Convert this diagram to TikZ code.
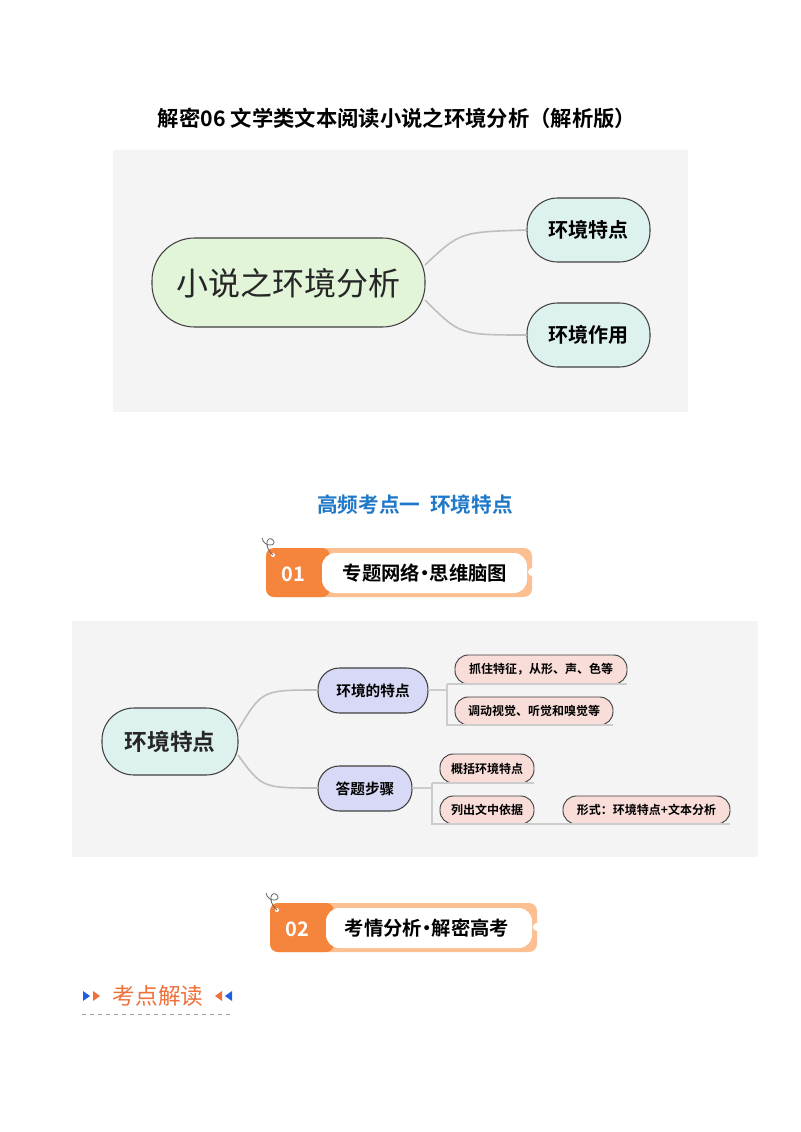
\documentclass[tikz,border=0pt]{standalone}
\usepackage{fontspec}
\newfontfamily\cjk{Noto Sans CJK SC}
\newfontfamily\cjkb{Noto Sans CJK SC Bold}
\definecolor{panel}{HTML}{F4F4F4}
\definecolor{lgreen}{HTML}{E2F5D9}
\definecolor{lcyan}{HTML}{DDF1EE}
\definecolor{lav}{HTML}{D7D9F6}
\definecolor{pinkf}{HTML}{F8DDD8}
\definecolor{orng}{HTML}{F5843C}
\definecolor{lorng}{HTML}{FBBF92}
\definecolor{ttlblue}{HTML}{1F78C8}
\definecolor{txtorng}{HTML}{F0703A}
\definecolor{arrblue}{HTML}{1F5FE0}
\tikzset{
 bub/.style={draw=black!75,line width=0.8pt,rounded corners=#1},
 conn/.style={draw=black!25,line width=1.2pt},
 leafl/.style={draw=black!20,line width=0.8pt},
 t/.style={font=\cjkb\color{black!80}},
}
\begin{document}
\begin{tikzpicture}[x=0.75pt,y=-0.75pt]
\useasboundingbox (0,0) rectangle (800,1132);
\fill[white] (0,0) rectangle (800,1132);
\node[font=\cjkb\fontsize{16}{18}\selectfont] (title) at (397,118) {解密06\ 文学类文本阅读小说之环境分析（解析版）};
% top panel
\fill[panel] (113,150) rectangle (688,412);
\filldraw[bub=32,fill=lgreen] (152,238) rectangle (425,327);
\node[font=\cjk\fontsize{24}{26}\selectfont,text=black!85] (c) at (288.5,283) {小说之环境分析};
\filldraw[bub=23,fill=lcyan] (527,198) rectangle (650,262);
\node[t,font=\cjkb\fontsize{15}{17}\selectfont] (a1) at (588.5,230) {环境特点};
\filldraw[bub=23,fill=lcyan] (527,303) rectangle (650,367);
\node[t,font=\cjkb\fontsize{15}{17}\selectfont] (a2) at (588.5,335) {环境作用};
\coordinate (cr) at (425,265); \coordinate (cr2) at (425,300);
\coordinate (a1l) at (527,230); \coordinate (a2l) at (527,335);
\draw[conn] (cr) .. controls (460,232) .. (a1l);
\draw[conn] (cr2) .. controls (460,335) .. (a2l);
% section title
\node[font=\cjkb\fontsize{15.5}{17}\selectfont,text=ttlblue] (sec) at (415,505) {高频考点一\ \ 环境特点};
% banner 01
\begin{scope}
\fill[lorng,rounded corners=6] (266,548) rectangle (532,597);
\fill[orng,rounded corners=6] (266,548) rectangle (330,597);
\fill[white,rounded corners=10] (322,553) rectangle (527,593);
\fill[white] (532,572) circle (4);
\fill[white] (273,555) circle (2);
\node[font=\cjkb\fontsize{15}{17}\selectfont,text=white] (n01) at (293,574) {01};
\node[font=\cjkb\fontsize{14.5}{16}\selectfont] (b01) at (425,573) {专题网络\kern-0.25em·\kern-0.25em思维脑图};
\draw[black!60,line width=0.6pt] (273,555) .. controls (262,545) and (268,535) .. (273,540) .. controls (278,546) and (264,548) .. (262,538);
\end{scope}
% second panel
\fill[panel] (72,621) rectangle (758,857);
\filldraw[bub=24,fill=lcyan] (102,708) rectangle (238,775);
\node[font=\cjkb\fontsize{17}{19}\selectfont,text=black!85] (r) at (170,741.5) {环境特点};
\filldraw[bub=16,fill=lav] (318,668) rectangle (428,713);
\node[t,font=\cjkb\fontsize{11}{13}\selectfont] (m1) at (373,690.5) {环境的特点};
\filldraw[bub=16,fill=lav] (318,766) rectangle (412,811);
\node[t,font=\cjkb\fontsize{11}{13}\selectfont] (m2) at (365,788.5) {答题步骤};
\draw[conn] (238,730) .. controls (262,690) .. (318,690);
\draw[conn] (238,755) .. controls (262,788) .. (318,788);
\tikzset{lf/.style={bub=10,fill=pinkf,line width=0.7pt}}
\filldraw[lf] (455,655) rectangle (627,684);
\node[t,font=\cjkb\fontsize{9}{11}\selectfont] (l1) at (541,669.5) {抓住特征，从形、声、色等};
\filldraw[lf] (455,697) rectangle (613,725);
\node[t,font=\cjkb\fontsize{9}{11}\selectfont] (l2) at (534,711) {调动视觉、听觉和嗅觉等};
\filldraw[lf] (440,754) rectangle (534,783);
\node[t,font=\cjkb\fontsize{9}{11}\selectfont] (l3) at (487,768.5) {概括环境特点};
\filldraw[lf] (440,796) rectangle (534,824);
\node[t,font=\cjkb\fontsize{9}{11}\selectfont] (l4) at (487,810) {列出文中依据};
\filldraw[lf] (563,796) rectangle (730,824);
\node[t,font=\cjkb\fontsize{9}{11}\selectfont] (l5) at (646.5,810) {形式：环境特点+文本分析};
\draw[leafl] (428,690) -- (447,690);
\draw[leafl] (447,684) -- (627,684);
\draw[leafl] (447,684) -- (447,725) -- (613,725);
\draw[leafl] (412,788) -- (432,788);
\draw[leafl] (432,783) -- (534,783);
\draw[leafl] (432,783) -- (432,824) -- (730,824);
% banner 02
\begin{scope}
\fill[lorng,rounded corners=6] (270,903) rectangle (537,952);
\fill[orng,rounded corners=6] (270,903) rectangle (334,952);
\fill[white,rounded corners=10] (326,908) rectangle (532,948);
\fill[white] (537,927) circle (4);
\fill[white] (277,910) circle (2);
\node[font=\cjkb\fontsize{15}{17}\selectfont,text=white] (n02) at (297,929) {02};
\node[font=\cjkb\fontsize{14.5}{16}\selectfont] (b02) at (427,928) {考情分析\kern-0.25em·\kern-0.25em解密高考};
\draw[black!60,line width=0.6pt] (277,910) .. controls (266,900) and (272,890) .. (277,895) .. controls (282,901) and (268,903) .. (266,893);
\end{scope}
% 考点解读
\fill[arrblue] (83,991) -- (83,1001) -- (90,996) -- cycle;
\fill[txtorng] (93,991) -- (93,1001) -- (100,996) -- cycle;
\node[font=\cjk\fontsize{17}{19}\selectfont,text=txtorng] (kd) at (158,996) {考点解读};
\fill[txtorng] (222,991) -- (222,1001) -- (215,996) -- cycle;
\fill[arrblue] (232,991) -- (232,1001) -- (225,996) -- cycle;
\draw[black!35,dashed,line width=0.5pt] (82,1014) -- (233,1014);
\end{tikzpicture}
\end{document}
